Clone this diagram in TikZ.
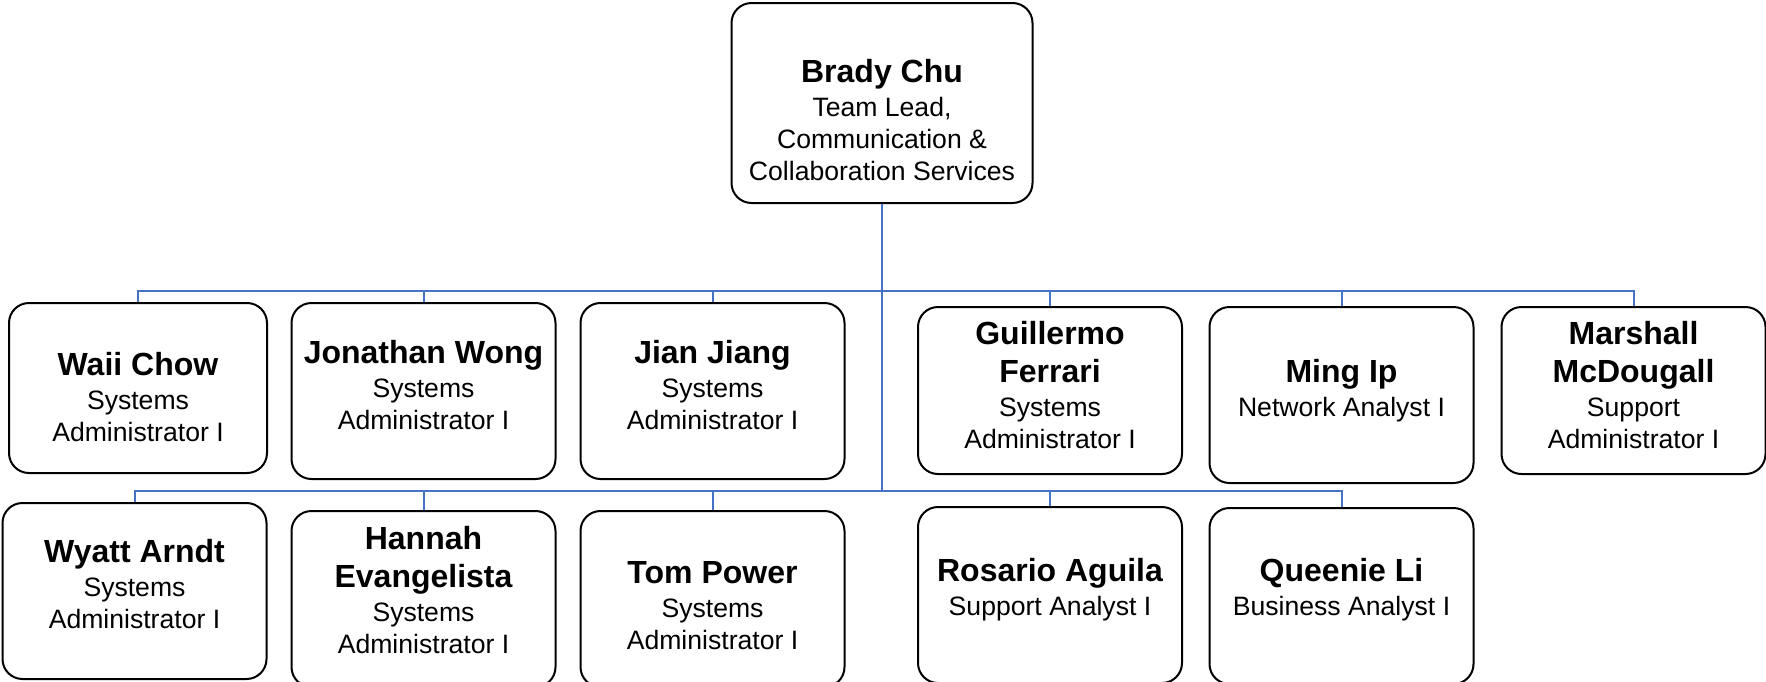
\documentclass[tikz,border=0pt]{standalone}
\usepackage{fontspec}
\setmainfont{Liberation Sans}
\usepackage{tikz}
\usetikzlibrary{positioning}

\definecolor{linkblue}{RGB}{68,114,196}
\newcommand{\nm}[1]{{\bfseries\fontsize{16}{19}\selectfont #1}}

\tikzset{
  person/.style={draw, line width=1pt, rounded corners=10pt,
    minimum width=132pt, minimum height=88pt, inner sep=0pt},
  who/.style={align=center, inner sep=0pt, font=\fontsize{13.3}{16}\selectfont},
  link/.style={draw=linkblue, line width=1pt}
}

\begin{document}
\begin{tikzpicture}[x=0.5pt, y=-0.5pt]
\useasboundingbox (0,0) rectangle (1766,681);

% team lead
\node[person, minimum width=150.5pt, minimum height=100pt,
  label={[who, yshift=-8.4pt]center:{\nm{Brady Chu}\\[1pt] Team Lead,\\ Communication \&\\ Collaboration Services}}]
  (0) at (882,103) {};

% first row
\node[person, minimum width=129pt, minimum height=85pt,
  label={[who, yshift=-4.5pt]center:{\nm{Waii Chow}\\[1pt] Systems\\ Administrator I}}]
  (1) at (138,388) {};
\node[person, label={[who, yshift=2.8pt]center:{\nm{Jonathan Wong}\\[1pt] Systems\\ Administrator I}}]
  (2) at (423.5,391) {};
\node[person, label={[who, yshift=2.8pt]center:{\nm{Jian Jiang}\\[1pt] Systems\\ Administrator I}}]
  (3) at (712.5,391) {};
\node[person, minimum height=83.5pt,
  label={[who, yshift=2.5pt]center:{\nm{Guillermo}\\[3pt] \nm{Ferrari}\\[1pt] Systems\\ Administrator I}}]
  (4) at (1050,390.5) {};
\node[person, label={[who, yshift=2.3pt]center:{\nm{Ming Ip}\\[1pt] Network Analyst I}}]
  (5) at (1341.5,395) {};
\node[person, minimum height=83.5pt,
  label={[who, yshift=2.8pt]center:{\nm{Marshall}\\[3pt] \nm{McDougall}\\[1pt] Support\\ Administrator I}}]
  (6) at (1633.5,390.5) {};

% second row
\node[person, label={[who, yshift=3.4pt]center:{\nm{Wyatt Arndt}\\[1pt] Systems\\ Administrator I}}]
  (7) at (134.5,591) {};
\node[person, label={[who, yshift=4.5pt]center:{\nm{Hannah}\\[3pt] \nm{Evangelista}\\[1pt] Systems\\ Administrator I}}]
  (8) at (423.5,599) {};
\node[person, label={[who, yshift=-3.4pt]center:{\nm{Tom Power}\\[1pt] Systems\\ Administrator I}}]
  (9) at (712.5,599) {};
\node[person, label={[who, yshift=2.8pt]center:{\nm{Rosario Aguila}\\[1pt] Support Analyst I}}]
  (10) at (1050,595) {};
\node[person, label={[who, yshift=3.4pt]center:{\nm{Queenie Li}\\[1pt] Business Analyst I}}]
  (11) at (1341.5,596) {};

% buses
\coordinate (up) at (882,291);
\coordinate (low) at (882,491);
\draw[link] (0.south) -- (low);
\foreach \n in {1,...,6}
  \draw[link] (up) -| (\n.north);
\foreach \n in {7,...,11}
  \draw[link] (low) -| (\n.north);
\end{tikzpicture}
\end{document}
